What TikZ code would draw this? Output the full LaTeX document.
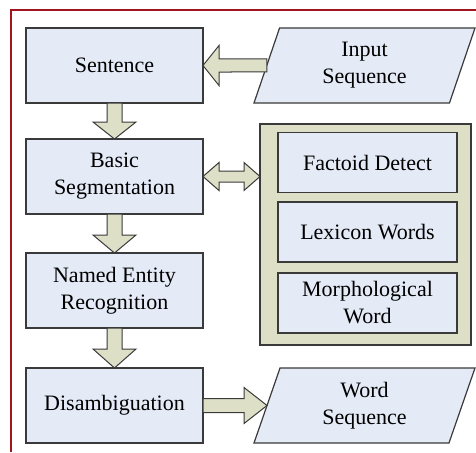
\documentclass[tikz,border=0pt]{standalone}
\usepackage{fontspec}
\setmainfont{Liberation Serif}
\newfontfamily\diagfont{Liberation Serif}
\usetikzlibrary{shapes.geometric,calc}
\definecolor{boxfill}{RGB}{228,234,246}
\definecolor{arrowfill}{RGB}{221,223,199}
\definecolor{framered}{RGB}{163,21,30}
\definecolor{edgegray}{RGB}{58,58,58}
% block arrow: from, to, shaft half width, head half width, head length
\newcommand\blockarrow[5]{%
  \path ($(#2)!#5!(#1)$) coordinate (ha);
  \draw[blk] ($(#1)!#3!90:(#2)$) -- ($(ha)!#3!90:(#2)$) -- ($(ha)!#4!90:(#2)$) -- (#2)
    -- ($(ha)!#4!-90:(#2)$) -- ($(ha)!#3!-90:(#2)$) -- ($(#1)!#3!-90:(#2)$) -- cycle;}
\newcommand\dblblockarrow[5]{%
  \path ($(#1)!#5!(#2)$) coordinate (haa) ($(#2)!#5!(#1)$) coordinate (hab);
  \draw[blk] (#1) -- ($(haa)!#4!90:(#2)$) -- ($(haa)!#3!90:(#2)$) -- ($(hab)!#3!90:(#2)$)
    -- ($(hab)!#4!90:(#2)$) -- (#2) -- ($(hab)!#4!-90:(#2)$) -- ($(hab)!#3!-90:(#2)$)
    -- ($(haa)!#3!-90:(#2)$) -- ($(haa)!#4!-90:(#2)$) -- cycle;}
\begin{document}
\begin{tikzpicture}[x=1pt,y=-1pt,
  txt/.style={align=center,font=\diagfont\fontsize{22}{27}\selectfont},
  proc/.style={txt,draw=edgegray,line width=1.2pt,fill=boxfill,minimum width=177pt,
    minimum height=75pt,inner sep=0pt,outer sep=0pt},
  sub/.style={proc,minimum width=179pt,minimum height=60pt},
  io/.style={txt,trapezium,trapezium left angle=61,trapezium right angle=119,
    trapezium stretches body,draw=edgegray,line width=1.2pt,fill=boxfill,
    minimum width=221pt,minimum height=75pt,inner sep=0pt,outer sep=0pt},
  group/.style={draw=edgegray,line width=1.2pt,fill=arrowfill,minimum width=211pt,
    minimum height=221pt,inner sep=0pt,outer sep=0pt},
  blk/.style={draw=edgegray,line width=1pt,fill=arrowfill,line join=miter},
  frame/.style={draw=framered,line width=1.2pt}]
\useasboundingbox (0,0) rectangle (476,452);
\coordinate (fa) at (476,10);
\coordinate (fb) at (11,10);
\coordinate (fc) at (11,452);
\draw[frame] (fa) -- (fb) -- (fc);
% left column
\node[proc] (s) at (114.5,65.5) {Sentence};
\node[proc] (b) at (114.5,176.5) {Basic\\Segmentation};
\node[proc] (n) at (114.5,290.5) {Named Entity\\Recognition};
\node[proc] (d) at (114.5,405.5) {Disambiguation};
% right column
\node[io] (in) at (364.5,65.5) {Input\\Sequence};
\node[group] (c) at (365.5,234.5) {};
\node[sub] (f) at (367.5,162.5) {Factoid Detect};
\node[sub] (l) at (367.5,232) {Lexicon Words};
\node[sub] (m) at (367.5,303) {Morphological\\Word};
\node[io] (ws) at (364.5,405.5) {Word\\Sequence};
\coordinate (ct) at (b.east -| c.west);
% arrows
\blockarrow{s.south}{b.north}{7.5pt}{21.5pt}{17pt}
\blockarrow{b.south}{n.north}{7.5pt}{21.5pt}{18pt}
\blockarrow{n.south}{d.north}{7.5pt}{21.5pt}{19pt}
\blockarrow{in.west}{s.east}{6.5pt}{20pt}{16pt}
\blockarrow{d.east}{ws.west}{7pt}{18pt}{23pt}
\dblblockarrow{b.east}{ct}{5.5pt}{14pt}{16pt}
\end{tikzpicture}
\end{document}
